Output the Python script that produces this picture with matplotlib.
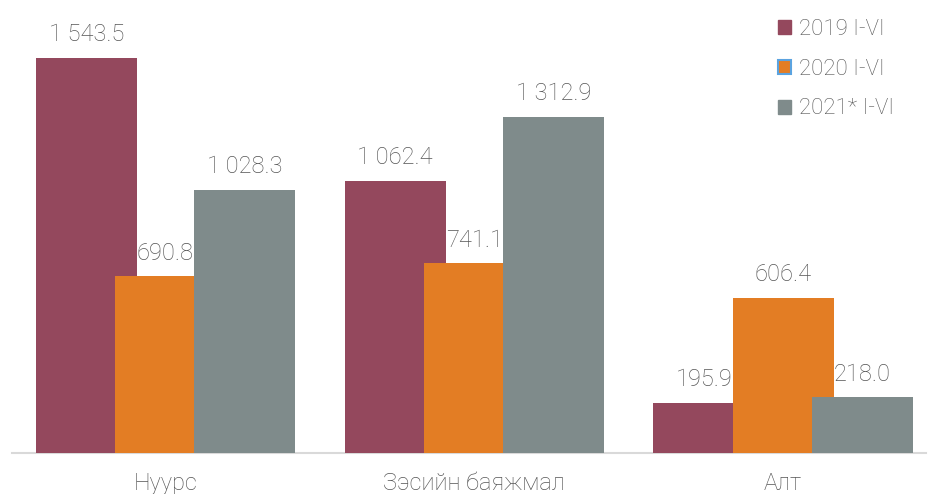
import matplotlib
matplotlib.use("Agg")
import matplotlib.pyplot as plt
from matplotlib.patches import Patch
import numpy as np

categories = ["Нуурс", "Зэсийн баяжмал", "Алт"]
series_names = ["2019 I-VI", "2020 I-VI", "2021* I-VI"]
v2019 = [1543.5, 1062.4, 195.9]
v2020 = [690.8, 741.1, 606.4]
v2021 = [1028.3, 1312.9, 218.0]
labels2019 = ["1 543.5", "1 062.4", "195.9"]
labels2020 = ["690.8", "741.1", "606.4"]
labels2021 = ["1 028.3", "1 312.9", "218.0"]

colors = ["#94485D", "#E37D24", "#7F8B8B"]
text_color = "#555555"

plt.rcParams['font.family'] = ['Roboto', 'DejaVu Sans']

fig = plt.figure(figsize=(9.29, 4.94), dpi=100)
ax = fig.add_axes([12/929, 41/494, 914/929, 453/494])

x = np.arange(len(categories))
width = 0.327
offset = 0.256
series = [v2019, v2020, v2021]
labels = [labels2019, labels2020, labels2021]
for i, (vals, labs, c) in enumerate(zip(series, labels, colors)):
    xs = x + (i - 1) * offset
    ax.bar(xs, vals, width=width, color=c, zorder=2 + i)
    for xi, v, lab in zip(xs, vals, labs):
        ax.annotate(lab, (xi, v), xytext=(0, 12), textcoords="offset points",
                    ha="center", va="baseline", fontsize=17, color=text_color,
                    fontweight="light", zorder=10)

ax.set_xlim(-0.497, 2.463)
ax.set_ylim(0, 1770)
ax.set_xticks(x)
ax.set_xticklabels(categories, fontsize=17, color=text_color, fontweight="light")
ax.tick_params(axis="x", length=0, pad=14)
ax.set_yticks([])
for s in ["top", "right", "left"]:
    ax.spines[s].set_visible(False)
ax.spines["bottom"].set_color("#D9D9D9")
ax.spines["bottom"].set_linewidth(1.5)
ax.spines["bottom"].set_zorder(1)

handles = [Patch(facecolor=colors[0], edgecolor=colors[0]),
           Patch(facecolor=colors[1], edgecolor="#5BA3E0", linewidth=1.5),
           Patch(facecolor=colors[2], edgecolor=colors[2])]
leg = ax.legend(handles, series_names, loc="upper left",
                bbox_to_anchor=(771/929, 1 - 12/494), bbox_transform=fig.transFigure,
                frameon=False, fontsize=16, handlelength=0.6, handleheight=0.6,
                handletextpad=0.35, labelspacing=0.85, borderaxespad=0, borderpad=0.3)
for t in leg.get_texts():
    t.set_color(text_color)
    t.set_fontweight("light")

fig.savefig("out.png", dpi=100)
